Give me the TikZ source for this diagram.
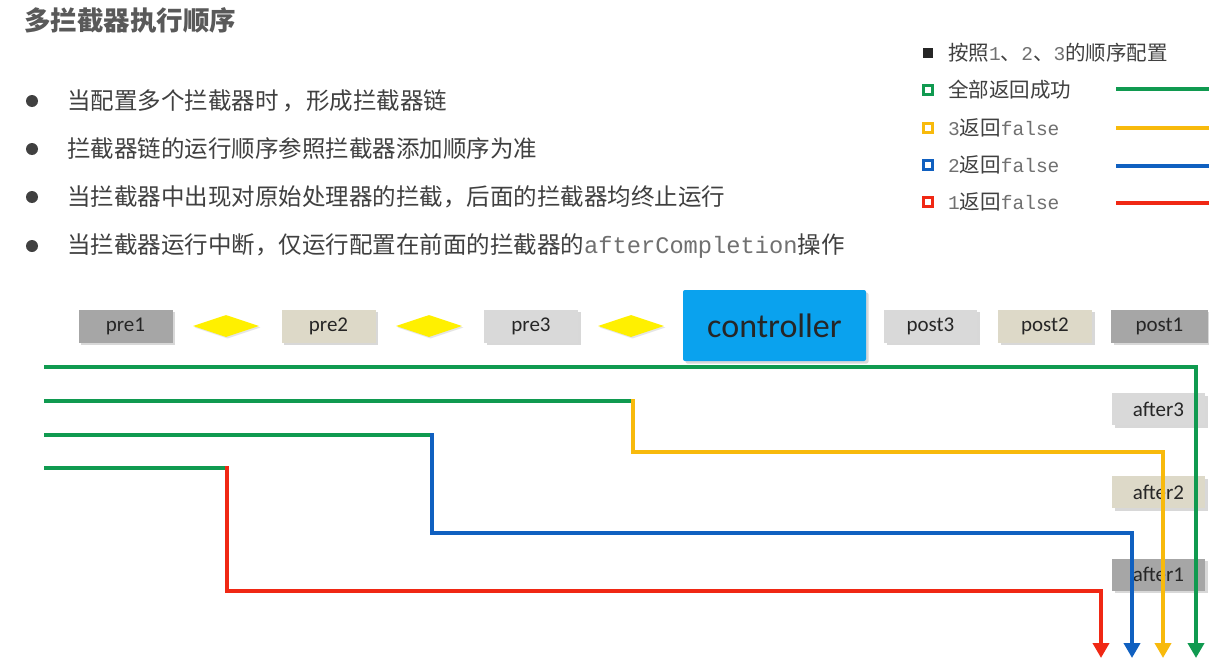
\documentclass[tikz,border=0pt]{standalone}
\usepackage{fontspec}
\newfontfamily\cjk{Noto Sans CJK SC}
\newfontfamily\boxfont{Carlito}
\newfontfamily\monof{Liberation Mono}
\usetikzlibrary{shapes.geometric,shadows,arrows.meta}
\definecolor{gline}{HTML}{109A50}
\definecolor{yline}{HTML}{F8BA0C}
\definecolor{bline}{HTML}{1060C0}
\definecolor{rline}{HTML}{F02814}
\definecolor{darkbox}{HTML}{A6A6A6}
\definecolor{tanbox}{HTML}{DDD9C8}
\definecolor{lightbox}{HTML}{D9D9D9}
\definecolor{ctrlblue}{HTML}{0AA2EE}
\definecolor{dia}{HTML}{FFF000}
\definecolor{txt}{HTML}{404040}
\definecolor{titlegray}{HTML}{595959}
\definecolor{monogray}{HTML}{707070}
\begin{document}
\begin{tikzpicture}[x=1pt,y=-1pt,
  stepbox/.style={draw=none, minimum width=94pt, minimum height=33pt, inner sep=0pt,
    font=\boxfont\fontsize{21}{24}\selectfont, text=black!85,
    drop shadow={shadow xshift=2.5pt,shadow yshift=-2.5pt,opacity=0.3}},
  diam/.style={diamond, fill=dia, draw=none, inner sep=0pt, minimum width=66pt, minimum height=22pt,
    drop shadow={shadow xshift=1.5pt,shadow yshift=-1.5pt,opacity=0.2}},
  bul/.style={circle, fill=txt, inner sep=0pt, minimum size=12pt},
  btext/.style={anchor=west, inner sep=0pt, text=txt, font=\cjk\fontsize{23.5}{28}\selectfont},
  ltext/.style={anchor=west, inner sep=0pt, text=txt, font=\cjk\fontsize{20.5}{24}\selectfont},
  lsq/.style={draw=#1, line width=2.5pt, minimum size=9pt, inner sep=0pt},
  wire/.style={line width=4pt, draw=#1},
  arr/.style={-{Triangle[width=16pt 0 0,length=15pt 0 0]}}
]
\useasboundingbox (0,0) rectangle (1209,661);
\fill[white] (0,0) rectangle (1209,661);

% title
\node[anchor=west, inner sep=0pt, text=titlegray, font=\cjk\bfseries\fontsize{26.5}{30}\selectfont] (title) at (24,20) {多拦截器执行顺序};

% bullets
\node[bul] (b1) at (32,101) {};
\node[btext] (t1) at (67,101) {当配置多个拦截器时\,，形成拦截器链};
\node[bul] (b2) at (32,149) {};
\node[btext] (t2) at (67,149) {拦截器链的运行顺序参照拦截器添加顺序为准};
\node[bul] (b3) at (32,197) {};
\node[btext] (t3) at (67,197) {当拦截器中出现对原始处理器的拦截，后面的拦截器均终止运行};
\node[bul] (b4) at (32,246) {};
\node[btext] (t4) at (67,246) {当拦截器运行中断，仅运行配置在前面的拦截器的{\monof\fontsize{23.7}{28}\selectfont\color{monogray}afterCompletion}操作};

% legend
\node[fill=black!85, minimum size=10pt, inner sep=0pt] (q0) at (928,53) {};
\node[ltext] (l0) at (948,53) {按照{\monof\fontsize{19.5}{24}\selectfont\color{monogray}1}、{\monof\fontsize{19.5}{24}\selectfont\color{monogray}2}、{\monof\fontsize{19.5}{24}\selectfont\color{monogray}3}的顺序配置};
\node[lsq=gline] (q1) at (928,90) {};
\node[ltext] (l1) at (948,90) {全部返回成功};
\node[lsq=yline] (q2) at (928,128) {};
\node[ltext] (l2) at (948,128) {{\monof\fontsize{19.5}{24}\selectfont\color{monogray}3}返回{\monof\fontsize{19.5}{24}\selectfont\color{monogray}false}};
\node[lsq=bline] (q3) at (928,165) {};
\node[ltext] (l3) at (948,165) {{\monof\fontsize{19.5}{24}\selectfont\color{monogray}2}返回{\monof\fontsize{19.5}{24}\selectfont\color{monogray}false}};
\node[lsq=rline] (q4) at (928,202) {};
\node[ltext] (l4) at (948,202) {{\monof\fontsize{19.5}{24}\selectfont\color{monogray}1}返回{\monof\fontsize{19.5}{24}\selectfont\color{monogray}false}};
\coordinate (lg1a) at (1116,89);  \coordinate (lg1b) at (1209,89);
\coordinate (lg2a) at (1116,128); \coordinate (lg2b) at (1209,128);
\coordinate (lg3a) at (1116,166); \coordinate (lg3b) at (1209,166);
\coordinate (lg4a) at (1116,203); \coordinate (lg4b) at (1209,203);
\draw[wire=gline] (lg1a) -- (lg1b);
\draw[wire=yline] (lg2a) -- (lg2b);
\draw[wire=bline] (lg3a) -- (lg3b);
\draw[wire=rline] (lg4a) -- (lg4b);

% top row
\node[stepbox, fill=darkbox] (pre1) at (125.5,326) {pre1};
\node[diam] (d1) at (226,326) {};
\node[stepbox, fill=tanbox] (pre2) at (328.5,326) {pre2};
\node[diam] (d2) at (429,326) {};
\node[stepbox, fill=lightbox] (pre3) at (531,326) {pre3};
\node[diam] (d3) at (631,326) {};
\node[stepbox, fill=ctrlblue, minimum width=183pt, minimum height=71pt, rounded corners=2pt,
  font=\boxfont\fontsize{34}{38}\selectfont] (ctrl) at (774.5,325.5) {controller};
\node[stepbox, fill=lightbox, minimum width=93pt] (post3) at (930.5,326) {post3};
\node[stepbox, fill=tanbox] (post2) at (1045,326) {post2};
\node[stepbox, fill=darkbox, minimum width=97pt] (post1) at (1159.5,326) {post1};

% after boxes
\node[stepbox, fill=lightbox, minimum width=93pt, minimum height=32pt] (after3) at (1158.5,409) {after3};
\node[stepbox, fill=tanbox, minimum width=93pt, minimum height=32pt] (after2) at (1158.5,492) {after2};
\node[stepbox, fill=darkbox, minimum width=93pt, minimum height=32pt] (after1) at (1158.5,574.5) {after1};

% flow lines
\coordinate (s1) at (44,367);  \coordinate (e1) at (1196,658);
\coordinate (s2) at (44,401);  \coordinate (k2) at (633,401); \coordinate (m2) at (633,452); \coordinate (e2) at (1163,658);
\coordinate (s3) at (44,435);  \coordinate (k3) at (432,435); \coordinate (m3) at (432,533); \coordinate (e3) at (1132,658);
\coordinate (s4) at (44,468);  \coordinate (k4) at (227,468); \coordinate (m4) at (227,591); \coordinate (e4) at (1101,658);

\draw[wire=gline, arr] (s1) -| (e1);
\draw[wire=gline] (s2) -- (k2);
\draw[wire=yline, arr, shorten <=-2pt] (k2) -- (m2) -| (e2);
\draw[wire=gline] (s3) -- (k3);
\draw[wire=bline, arr, shorten <=-2pt] (k3) -- (m3) -| (e3);
\draw[wire=gline] (s4) -- (k4);
\draw[wire=rline, arr, shorten <=-2pt] (k4) -- (m4) -| (e4);
\end{tikzpicture}
\end{document}
